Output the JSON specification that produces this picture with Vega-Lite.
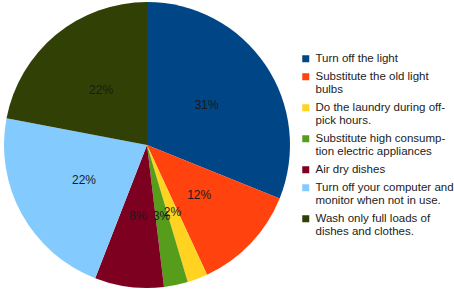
{
  "$schema": "https://vega.github.io/schema/vega-lite/v6.json",
  "width": 294,
  "height": 290,
  "padding": {"left": 0, "top": 0, "right": 0, "bottom": 0},
  "background": "white",
  "data": {
    "values": [
      {"item": "Turn off the light", "order": 1, "share": 0.311},
      {"item": "Substitute the old light|bulbs", "order": 2, "share": 0.12},
      {"item": "Do the laundry during off-|pick hours.", "order": 3, "share": 0.023},
      {"item": "Substitute high consump-|tion electric appliances", "order": 4, "share": 0.027},
      {"item": "Air dry dishes", "order": 5, "share": 0.078},
      {"item": "Turn off your computer and|monitor when not in use.", "order": 6, "share": 0.221},
      {"item": "Wash only full loads of|dishes and clothes.", "order": 7, "share": 0.22}
    ]
  },
  "encoding": {
    "theta": {"field": "share", "type": "quantitative", "stack": true},
    "order": {"field": "order", "type": "quantitative"}
  },
  "layer": [
    {
      "mark": {"type": "arc", "outerRadius": 143},
      "encoding": {
        "color": {
          "field": "item",
          "type": "nominal",
          "sort": {"field": "order"},
          "scale": {
            "domain": ["Turn off the light", "Substitute the old light|bulbs", "Do the laundry during off-|pick hours.", "Substitute high consump-|tion electric appliances", "Air dry dishes", "Turn off your computer and|monitor when not in use.", "Wash only full loads of|dishes and clothes."],
            "range": ["#004586", "#ff420e", "#ffd320", "#579d1c", "#7e0021", "#83caff", "#314004"]
          },
          "legend": {
            "title": null,
            "orient": "none",
            "legendX": 300,
            "legendY": 53,
            "labelExpr": "split(datum.label, '|')",
            "labelFont": "Liberation Sans",
            "labelFontSize": 11.5,
            "labelColor": "#222222",
            "labelLimit": 300,
            "labelOffset": 4,
            "symbolType": "square",
            "symbolSize": 49,
            "symbolStrokeWidth": 0,
            "rowPadding": 5
          }
        }
      }
    },
    {
      "mark": {"type": "text", "radius": 72, "font": "Liberation Sans", "fontSize": 12, "color": "#1a1a1a"},
      "encoding": {"text": {"field": "share", "type": "quantitative", "format": ".0%"}}
    }
  ],
  "config": {"view": {"stroke": null}}
}
